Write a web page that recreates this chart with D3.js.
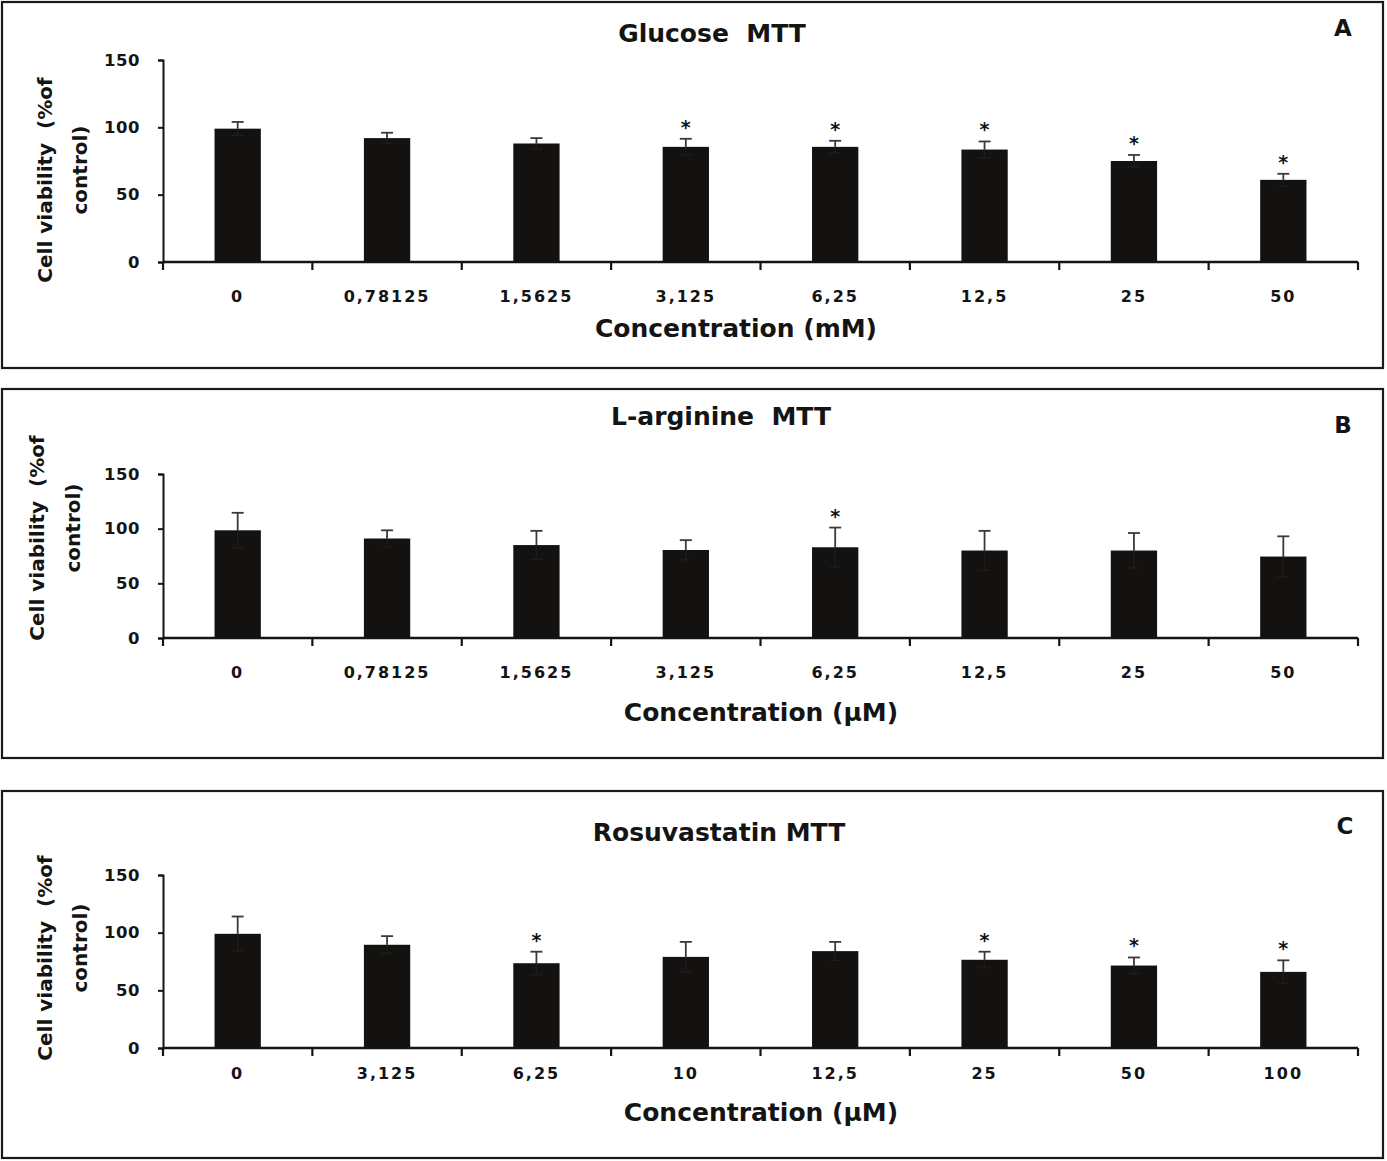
<!DOCTYPE html>
<html>
<head>
<meta charset="utf-8">
<script src="https://cdn.jsdelivr.net/npm/d3@7"></script>
<style>
  html, body { margin: 0; padding: 0; background: #fff; }
  svg { display: block; }
  text { font-family: "DejaVu Sans", Verdana, sans-serif; font-weight: bold; fill: #141414; white-space: pre; }
</style>
</head>
<body>
<svg id="chart" width="1387" height="1161"></svg>
<script>
// ---- Data ----
const yTicks = [0, 50, 100, 150];

const titleA = "Glucose  MTT";
const xTitleA = "Concentration (mM)";
const categoriesA = ["0", "0,78125", "1,5625", "3,125", "6,25", "12,5", "25", "50"];
const valuesA = [99, 92, 88, 85.5, 85.5, 83.5, 75, 61];
const errorsA = [5, 4, 4, 6, 4.5, 6, 4.5, 4.5];
const starsA = [false, false, false, true, true, true, true, true];

const titleB = "L-arginine  MTT";
const xTitleB = "Concentration (\u00b5M)";
const categoriesB = ["0", "0,78125", "1,5625", "3,125", "6,25", "12,5", "25", "50"];
const valuesB = [98.5, 91, 85, 80.5, 83, 80, 80, 74.5];
const errorsB = [16, 7.5, 13, 9, 18, 18, 16, 18.5];
const starsB = [false, false, false, false, true, false, false, false];

const titleC = "Rosuvastatin MTT";
const xTitleC = "Concentration (\u00b5M)";
const categoriesC = ["0", "3,125", "6,25", "10", "12,5", "25", "50", "100"];
const valuesC = [99, 89.5, 73.5, 79, 84, 76.5, 71.5, 66];
const errorsC = [15, 7.5, 10, 13, 8, 7, 7, 10];
const starsC = [false, false, true, false, false, true, true, true];

const yLabel1 = "Cell viability  (%of";
const yLabel2 = "control)";

// ---- Layout ----
const panels = [
  { letter: "A", title: titleA, xTitle: xTitleA, cats: categoriesA, vals: valuesA, errs: errorsA, stars: starsA,
    box: [2, 2, 1383, 368], y150: 60, y0: 262, titleY: 33, titleX: 712, tickY: 296, xTitleY: 328, xTitleX: 736,
    letterX: 1343, letterY: 28, yl1X: 45, yl2X: 80, ylY: 180 },
  { letter: "B", title: titleB, xTitle: xTitleB, cats: categoriesB, vals: valuesB, errs: errorsB, stars: starsB,
    box: [2, 389, 1383, 758], y150: 474, y0: 638, titleY: 416, titleX: 721, tickY: 672, xTitleY: 712, xTitleX: 761,
    letterX: 1343, letterY: 425, yl1X: 37, yl2X: 73, ylY: 538 },
  { letter: "C", title: titleC, xTitle: xTitleC, cats: categoriesC, vals: valuesC, errs: errorsC, stars: starsC,
    box: [2, 791, 1383, 1158], y150: 875, y0: 1048, titleY: 832, titleX: 719, tickY: 1073, xTitleY: 1112, xTitleX: 761,
    letterX: 1345, letterY: 826, yl1X: 45, yl2X: 80, ylY: 958 }
];

const svg = d3.select("#chart");
const xLeft = 163, xRight = 1358;

panels.forEach(p => {
  const g = svg.append("g");
  // border box
  g.append("rect")
    .attr("x", p.box[0]).attr("y", p.box[1])
    .attr("width", p.box[2] - p.box[0]).attr("height", p.box[3] - p.box[1])
    .attr("fill", "none").attr("stroke", "#1a1a1a").attr("stroke-width", 2.2);

  const x = d3.scaleBand().domain(p.cats).range([xLeft, xRight])
    .paddingInner(0.69).paddingOuter(0.345);
  const y = d3.scaleLinear().domain([0, 150]).range([p.y0, p.y150]);

  // bars
  g.selectAll("rect.bar").data(p.cats).enter().append("rect")
    .attr("class", "bar")
    .attr("x", d => x(d))
    .attr("width", x.bandwidth())
    .attr("y", (d, i) => y(p.vals[i]))
    .attr("height", (d, i) => p.y0 - y(p.vals[i]))
    .attr("fill", "#141210");

  // error bars
  const cap = 6;
  p.cats.forEach((c, i) => {
    const cx = x(c) + x.bandwidth() / 2;
    const top = y(p.vals[i] + p.errs[i]);
    const bot = y(p.vals[i] - p.errs[i]);
    const mid = y(p.vals[i]);
    g.append("line").attr("x1", cx).attr("x2", cx).attr("y1", top).attr("y2", mid)
      .attr("stroke", "#3a3a3a").attr("stroke-width", 1.8);
    g.append("line").attr("x1", cx - cap).attr("x2", cx + cap).attr("y1", top).attr("y2", top)
      .attr("stroke", "#3a3a3a").attr("stroke-width", 1.8);
    g.append("line").attr("x1", cx).attr("x2", cx).attr("y1", mid).attr("y2", bot)
      .attr("stroke", "#1d1c1b").attr("stroke-width", 1.5);
    g.append("line").attr("x1", cx - cap).attr("x2", cx + cap).attr("y1", bot).attr("y2", bot)
      .attr("stroke", "#1d1c1b").attr("stroke-width", 1.5);
    if (p.stars[i]) {
      g.append("text").attr("x", cx).attr("y", top - 5)
        .attr("text-anchor", "middle").attr("font-size", 19)
        .text("*");
    }
  });

  // y axis
  const yAxis = d3.axisLeft(y).tickValues(yTicks).tickSize(5).tickPadding(18).tickFormat(d3.format("d"));
  const ya = g.append("g").attr("transform", `translate(${xLeft},0)`).call(yAxis);
  ya.select(".domain").attr("stroke", "#141414").attr("stroke-width", 2);
  ya.selectAll(".tick line").attr("stroke", "#141414").attr("stroke-width", 2);
  ya.selectAll(".tick text").attr("font-size", 16.5).attr("fill", "#141414")
    .attr("font-family", "DejaVu Sans").attr("font-weight", "bold").attr("letter-spacing", 0.5);

  // x axis line with boundary ticks
  g.append("line").attr("x1", xLeft).attr("x2", xRight).attr("y1", p.y0).attr("y2", p.y0)
    .attr("stroke", "#141414").attr("stroke-width", 2.6);
  const bounds = d3.range(p.cats.length + 1).map(k => xLeft + k * x.step());
  g.selectAll("line.xt").data(bounds).enter().append("line")
    .attr("class", "xt")
    .attr("x1", d => d).attr("x2", d => d)
    .attr("y1", p.y0).attr("y2", p.y0 + 8)
    .attr("stroke", "#141414").attr("stroke-width", 2.2);

  // x tick labels
  g.selectAll("text.xl").data(p.cats).enter().append("text")
    .attr("class", "xl")
    .attr("x", d => x(d) + x.bandwidth() / 2)
    .attr("y", p.tickY)
    .attr("dominant-baseline", "central")
    .attr("text-anchor", "middle")
    .attr("font-size", 16)
    .attr("letter-spacing", 2)
    .text(d => d);

  // title
  g.append("text").attr("x", p.titleX).attr("y", p.titleY)
    .attr("dominant-baseline", "central").attr("text-anchor", "middle")
    .attr("font-size", 25).text(p.title);

  // x axis title
  g.append("text").attr("x", p.xTitleX).attr("y", p.xTitleY)
    .attr("dominant-baseline", "central").attr("text-anchor", "middle")
    .attr("font-size", 25).text(p.xTitle);

  // panel letter
  g.append("text").attr("x", p.letterX).attr("y", p.letterY)
    .attr("dominant-baseline", "central").attr("text-anchor", "middle")
    .attr("font-size", 23).text(p.letter);

  // y axis title (two lines)
  g.append("text").attr("transform", `translate(${p.yl1X},${p.ylY}) rotate(-90)`)
    .attr("dominant-baseline", "central").attr("text-anchor", "middle")
    .attr("font-size", 20).text(yLabel1);
  g.append("text").attr("transform", `translate(${p.yl2X},${p.ylY - 10}) rotate(-90)`)
    .attr("dominant-baseline", "central").attr("text-anchor", "middle")
    .attr("font-size", 20).text(yLabel2);
});
</script>
</body>
</html>
